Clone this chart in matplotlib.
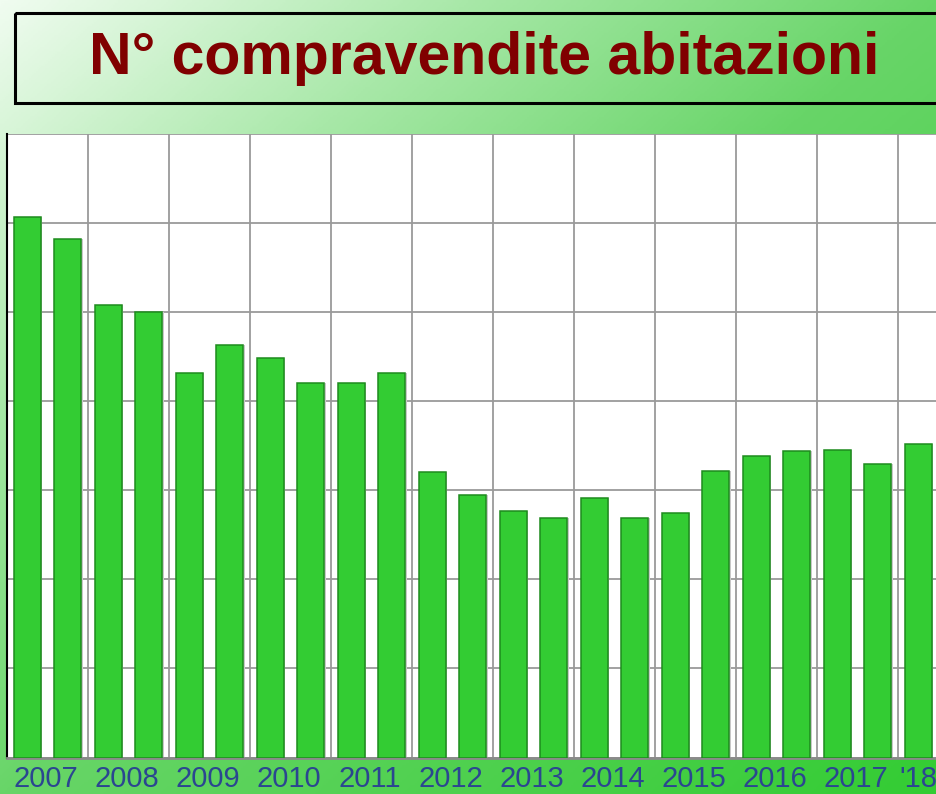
import numpy as np
import matplotlib
matplotlib.use("Agg")
import matplotlib.pyplot as plt
from matplotlib.colors import LinearSegmentedColormap
from matplotlib.patches import Rectangle

# ---- data (half-year values, thousands) ----
years = ["2007", "2008", "2009", "2010", "2011", "2012",
         "2013", "2014", "2015", "2016", "2017"]
last_label = "'18"
values = [303.4, 291.0, 254.3, 250.0, 216.1, 231.5, 224.2, 210.1, 210.1, 216.1,
          160.5, 147.2, 138.2, 134.7, 145.5, 134.4, 137.1, 161.1, 169.3, 171.9,
          172.5, 164.6, 176.0]
title = "N° compravendite abitazioni"

W, H = 936, 794
fig = plt.figure(figsize=(W / 100, H / 100), dpi=100)

# ---- background gradient ----
bg = fig.add_axes([0, 0, 1, 1], zorder=0)
bg.set_axis_off()
xx, yy = np.meshgrid(np.linspace(0, 1, 400), np.linspace(0, 1, 340))
t = (xx + yy) / 2
cmap = LinearSegmentedColormap.from_list(
    "g", [(0.0, (240/255, 252/255, 240/255)),
          (0.25, (168/255, 232/255, 168/255)),
          (0.5, (104/255, 213/255, 104/255)),
          (1.0, (51/255, 204/255, 51/255))])
bg.imshow(t, cmap=cmap, aspect="auto", extent=[0, 1, 1, 0], vmin=0, vmax=1)
bg.set_xlim(0, 1)
bg.set_ylim(1, 0)

# title box
bg.add_patch(Rectangle((15 / W, 12.5 / H), (W + 10 - 15) / W, (103 - 12.5) / H,
                       fill=False, edgecolor="black", linewidth=2.2,
                       transform=bg.transData, clip_on=False))
bg.text(484 / W, 59 / H, title, ha="center", va="center",
        fontsize=42.5, fontweight="bold", color="#800000",
        family=["Liberation Sans", "DejaVu Sans"])

# ---- bar axes ----
top_px, bot_px = 134.3, 757.5
left_px, right_px = 7, 7 + 24 * 40.5
ax = fig.add_axes([left_px / W, (H - bot_px) / H,
                   (right_px - left_px) / W, (bot_px - top_px) / H], zorder=1)
ax.set_facecolor("white")
n = len(values)
x = np.arange(n)
ax.set_xlim(-0.5, 23.5)
ax.set_ylim(0, 350)

# shadow + bars
ax.bar(x + 0.04, values, width=0.67, color="#c8c8c8", edgecolor="none", zorder=2)
ax.bar(x, values, width=0.67, color="#33CC33", edgecolor="#1E8B1E",
       linewidth=1.1, zorder=3)

# grid
ax.set_yticks(np.arange(0, 351, 50))
ax.set_xticks(np.arange(-0.5, 24, 2))
ax.grid(True, color="#9a9a9a", linewidth=1.3, zorder=1)
ax.tick_params(length=0, labelleft=False, labelbottom=False)
for s in ["top", "right"]:
    ax.spines[s].set_visible(False)
ax.spines["left"].set_color("black")
ax.spines["left"].set_linewidth(1.5)
ax.spines["bottom"].set_color("#8a8a8a")
ax.spines["bottom"].set_linewidth(2)

# year labels
label_pos = [2 * i + 0.45 for i in range(len(years))] + [n - 1]
labels = years + [last_label]
base_y = -(787 - bot_px) / (bot_px - top_px) * 350
for p, lab in zip(label_pos, labels):
    ax.text(p, base_y, lab, ha="center", va="baseline", fontsize=21,
            color="#2B4690", family=["Liberation Sans", "DejaVu Sans"],
            clip_on=False)

fig.savefig("out.png", dpi=100)
